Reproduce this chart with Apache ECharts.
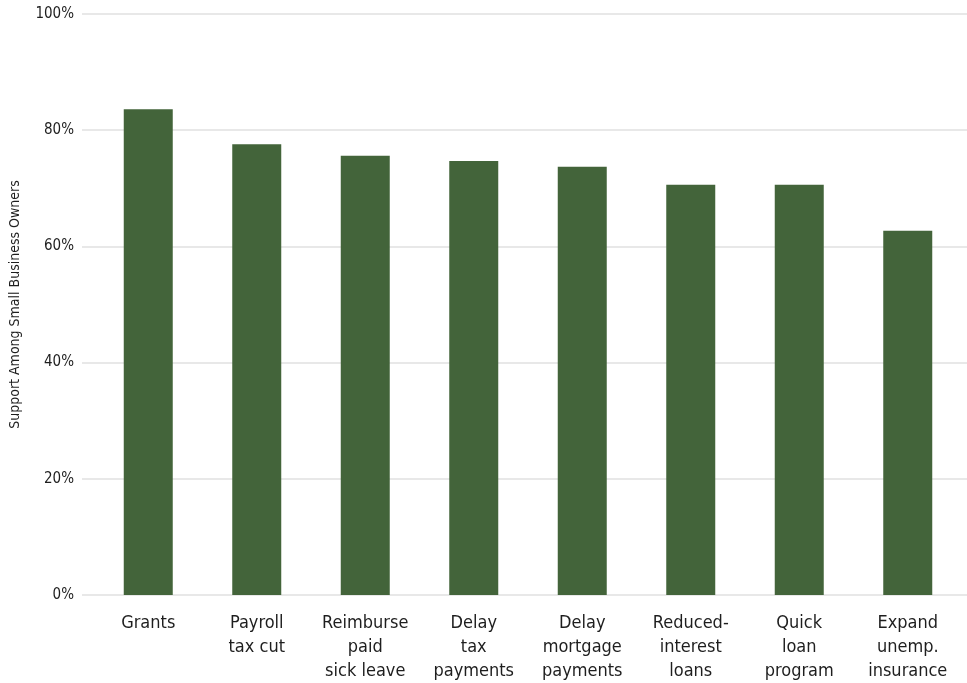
<!DOCTYPE html>
<html>
<head>
<meta charset="utf-8">
<script src="https://cdn.jsdelivr.net/npm/echarts@6/dist/echarts.min.js"></script>
<style>
  html, body { margin: 0; padding: 0; background: #fff; }
  #chart { width: 967px; height: 683px; }
</style>
</head>
<body>
<div id="chart"></div>
<script>
var categories = [
  "Grants", "Payroll\ntax cut", "Reimburse\npaid\nsick leave", "Delay\ntax\npayments",
  "Delay\nmortgage\npayments", "Reduced-\ninterest\nloans", "Quick\nloan\nprogram", "Expand\nunemp.\ninsurance"
];
var support = [83.6, 77.6, 75.6, 74.7, 73.7, 70.6, 70.6, 62.7];
var yTicks = [0, 20, 40, 60, 80, 100];

var font = '"Liberation Sans Narrow", "DejaVu Sans Condensed", sans-serif';
var myChart = echarts.init(document.getElementById('chart'));

myChart.setOption({
  animation: false,
  grid: [
    { left: 80, right: 0, top: 14, bottom: 88 },
    { left: 94, right: 5, top: 14, bottom: 88 }
  ],
  xAxis: [
    { gridIndex: 0, type: 'value', show: false, min: 0, max: 1 },
    {
      gridIndex: 1, type: 'category', data: categories,
      axisLine: { show: false }, axisTick: { show: false },
      axisLabel: { color: '#1e1e1e', fontFamily: font, fontSize: 18, lineHeight: 24, margin: 16, interval: 0 }
    }
  ],
  yAxis: [
    {
      gridIndex: 0, type: 'value', min: 0, max: 100, interval: 20,
      name: 'Support Among Small Business Owners', nameLocation: 'middle', nameGap: 60,
      nameTextStyle: { color: '#1e1e1e', fontFamily: font, fontSize: 14 },
      axisLine: { show: false }, axisTick: { show: false },
      axisLabel: { color: '#1e1e1e', fontFamily: font, fontSize: 15, margin: 8,
        formatter: function (v) { return yTicks.indexOf(v) >= 0 ? v + '%' : ''; } },
      splitLine: { lineStyle: { color: '#e8e8e8', width: 2 } }
    },
    { gridIndex: 1, type: 'value', min: 0, max: 100, show: false, splitLine: { show: false } }
  ],
  series: [{
    type: 'bar', xAxisIndex: 1, yAxisIndex: 1,
    data: support, barWidth: 49,
    itemStyle: { color: '#43643a' }
  }]
});
</script>
</body>
</html>
